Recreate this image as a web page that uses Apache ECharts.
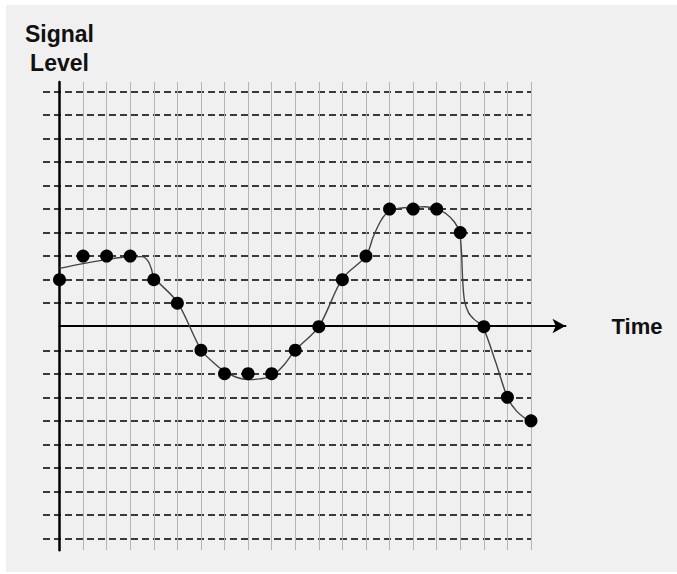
<!DOCTYPE html>
<html>
<head>
<meta charset="utf-8">
<script src="https://cdn.jsdelivr.net/npm/echarts@6/dist/echarts.min.js"></script>
<style>
  html, body { margin: 0; padding: 0; background: #ffffff; }
  #chart { width: 677px; height: 574px; }
</style>
</head>
<body>
<div id="chart"></div>
<script>
// Sampled signal levels at each time step (dots)
const sampleTimes = [0,1,2,3,4,5,6,7,8,9,10,11,12,13,14,15,16,17,18,19,20];
const sampleLevels = [2,3,3,3,2,1,-1,-2,-2,-2,-1,0,2,3,5,5,5,4,0,-3,-4];

// Analog signal curve: [time, level]
const signalCurve = [
  [0,2.48],[1,2.68],[2,2.85],[2.9,2.97],[3.5,2.98],[3.75,2.8],[3.9,2.45],[4,2.1],
  [5,1.04],[6,-0.98],[6.5,-1.5],[7,-1.9],[7.5,-2.15],[8,-2.25],[8.5,-2.22],
  [9,-2.1],[9.5,-1.65],[10,-1.0],[11,0],[12,2.04],[13,3],[13.3,3.8],[13.6,4.45],
  [13.85,4.8],[14.2,5.0],[15,5.08],[15.5,5.1],[16,5.0],[16.4,4.8],[16.75,4.45],
  [16.96,4.05],[17.05,3.2],[17.1,2.0],[17.18,1.1],[17.35,0.6],[17.6,0.3],
  [17.95,0],[18.5,-1.5],[19,-3.0],[19.4,-3.6],[19.96,-4.05]
];

// Grid line levels
const levelMin = -9;
const levelMax = 10;
const timeMin = 0;
const timeMax = 20;

const yTitle = 'Signal\nLevel';
const xTitle = 'Time';

const samples = sampleTimes.map((t, i) => [t, sampleLevels[i]]);

// dashed horizontal line colours: hide the one on the time axis (level 0)
const hColors = [];
for (let v = levelMin; v <= levelMax; v++) hColors.push(v === 0 ? 'rgba(0,0,0,0)' : '#3a3a3a');

const chart = echarts.init(document.getElementById('chart'), null, { renderer: 'svg' });
chart.setOption({
  backgroundColor: '#f0f0f0',
  animation: false,
  graphic: [
    { type: 'rect', left: 0, top: 0, shape: { width: 677, height: 5 }, style: { fill: '#ffffff' }, silent: true },
    { type: 'rect', left: 0, top: 0, shape: { width: 6, height: 574 }, style: { fill: '#ffffff' }, silent: true },
    { type: 'rect', left: 0, top: 572, shape: { width: 677, height: 2 }, style: { fill: '#ffffff' }, silent: true }
  ],
  grid: [
    { left: 43, top: 91.5, width: 488, height: 447 },
    { left: 59.5, top: 82, width: 471.5, height: 468.2 },
    { left: 59.5, top: 326, width: 506, height: 1 }
  ],
  xAxis: [
    { gridIndex: 0, type: 'value', min: 0, max: 1, show: false },
    {
      gridIndex: 1, type: 'value', min: timeMin, max: timeMax, interval: 1,
      axisLine: { show: false }, axisTick: { show: false }, axisLabel: { show: false },
      splitLine: { show: true, lineStyle: { color: '#b4b4b4', width: 1, type: 'solid' } }
    },
    {
      gridIndex: 2, type: 'value', min: 0, max: 1, position: 'top',
      axisLine: { show: true, onZero: false, symbol: ['none', 'arrow'], symbolSize: [11, 13],
        lineStyle: { color: '#000', width: 2 } },
      axisTick: { show: false }, axisLabel: { show: false }, splitLine: { show: false },
      name: xTitle, nameLocation: 'end', nameGap: 46,
      nameTextStyle: { fontFamily: 'Liberation Sans, Arial, sans-serif', fontWeight: 'bold', fontSize: 22, color: '#111', verticalAlign: 'middle' }
    }
  ],
  yAxis: [
    {
      gridIndex: 0, type: 'value', min: levelMin, max: levelMax, interval: 1,
      axisLine: { show: false }, axisTick: { show: false }, axisLabel: { show: false },
      splitLine: { show: true, lineStyle: { color: hColors, width: 2, type: [7, 4] } }
    },
    {
      gridIndex: 1, type: 'value', min: -9.5, max: 10.4,
      axisLine: { show: true, onZero: false, lineStyle: { color: '#000', width: 2.5 } },
      axisTick: { show: false }, axisLabel: { show: false }, splitLine: { show: false },
      name: yTitle, nameLocation: 'end', nameGap: 5,
      nameTextStyle: { fontFamily: 'Liberation Sans, Arial, sans-serif', fontWeight: 'bold', fontSize: 23, lineHeight: 29, color: '#111', align: 'center' }
    },
    { gridIndex: 2, type: 'value', show: false }
  ],
  series: [
    {
      type: 'line', xAxisIndex: 1, yAxisIndex: 1, data: signalCurve,
      smooth: 0.3, showSymbol: false, symbol: 'none',
      lineStyle: { color: '#444', width: 1.4 }, z: 3
    },
    {
      type: 'scatter', xAxisIndex: 1, yAxisIndex: 1, data: samples,
      symbol: 'circle', symbolSize: 13, itemStyle: { color: '#000', opacity: 1 }, z: 4
    }
  ]
});
</script>
</body>
</html>
